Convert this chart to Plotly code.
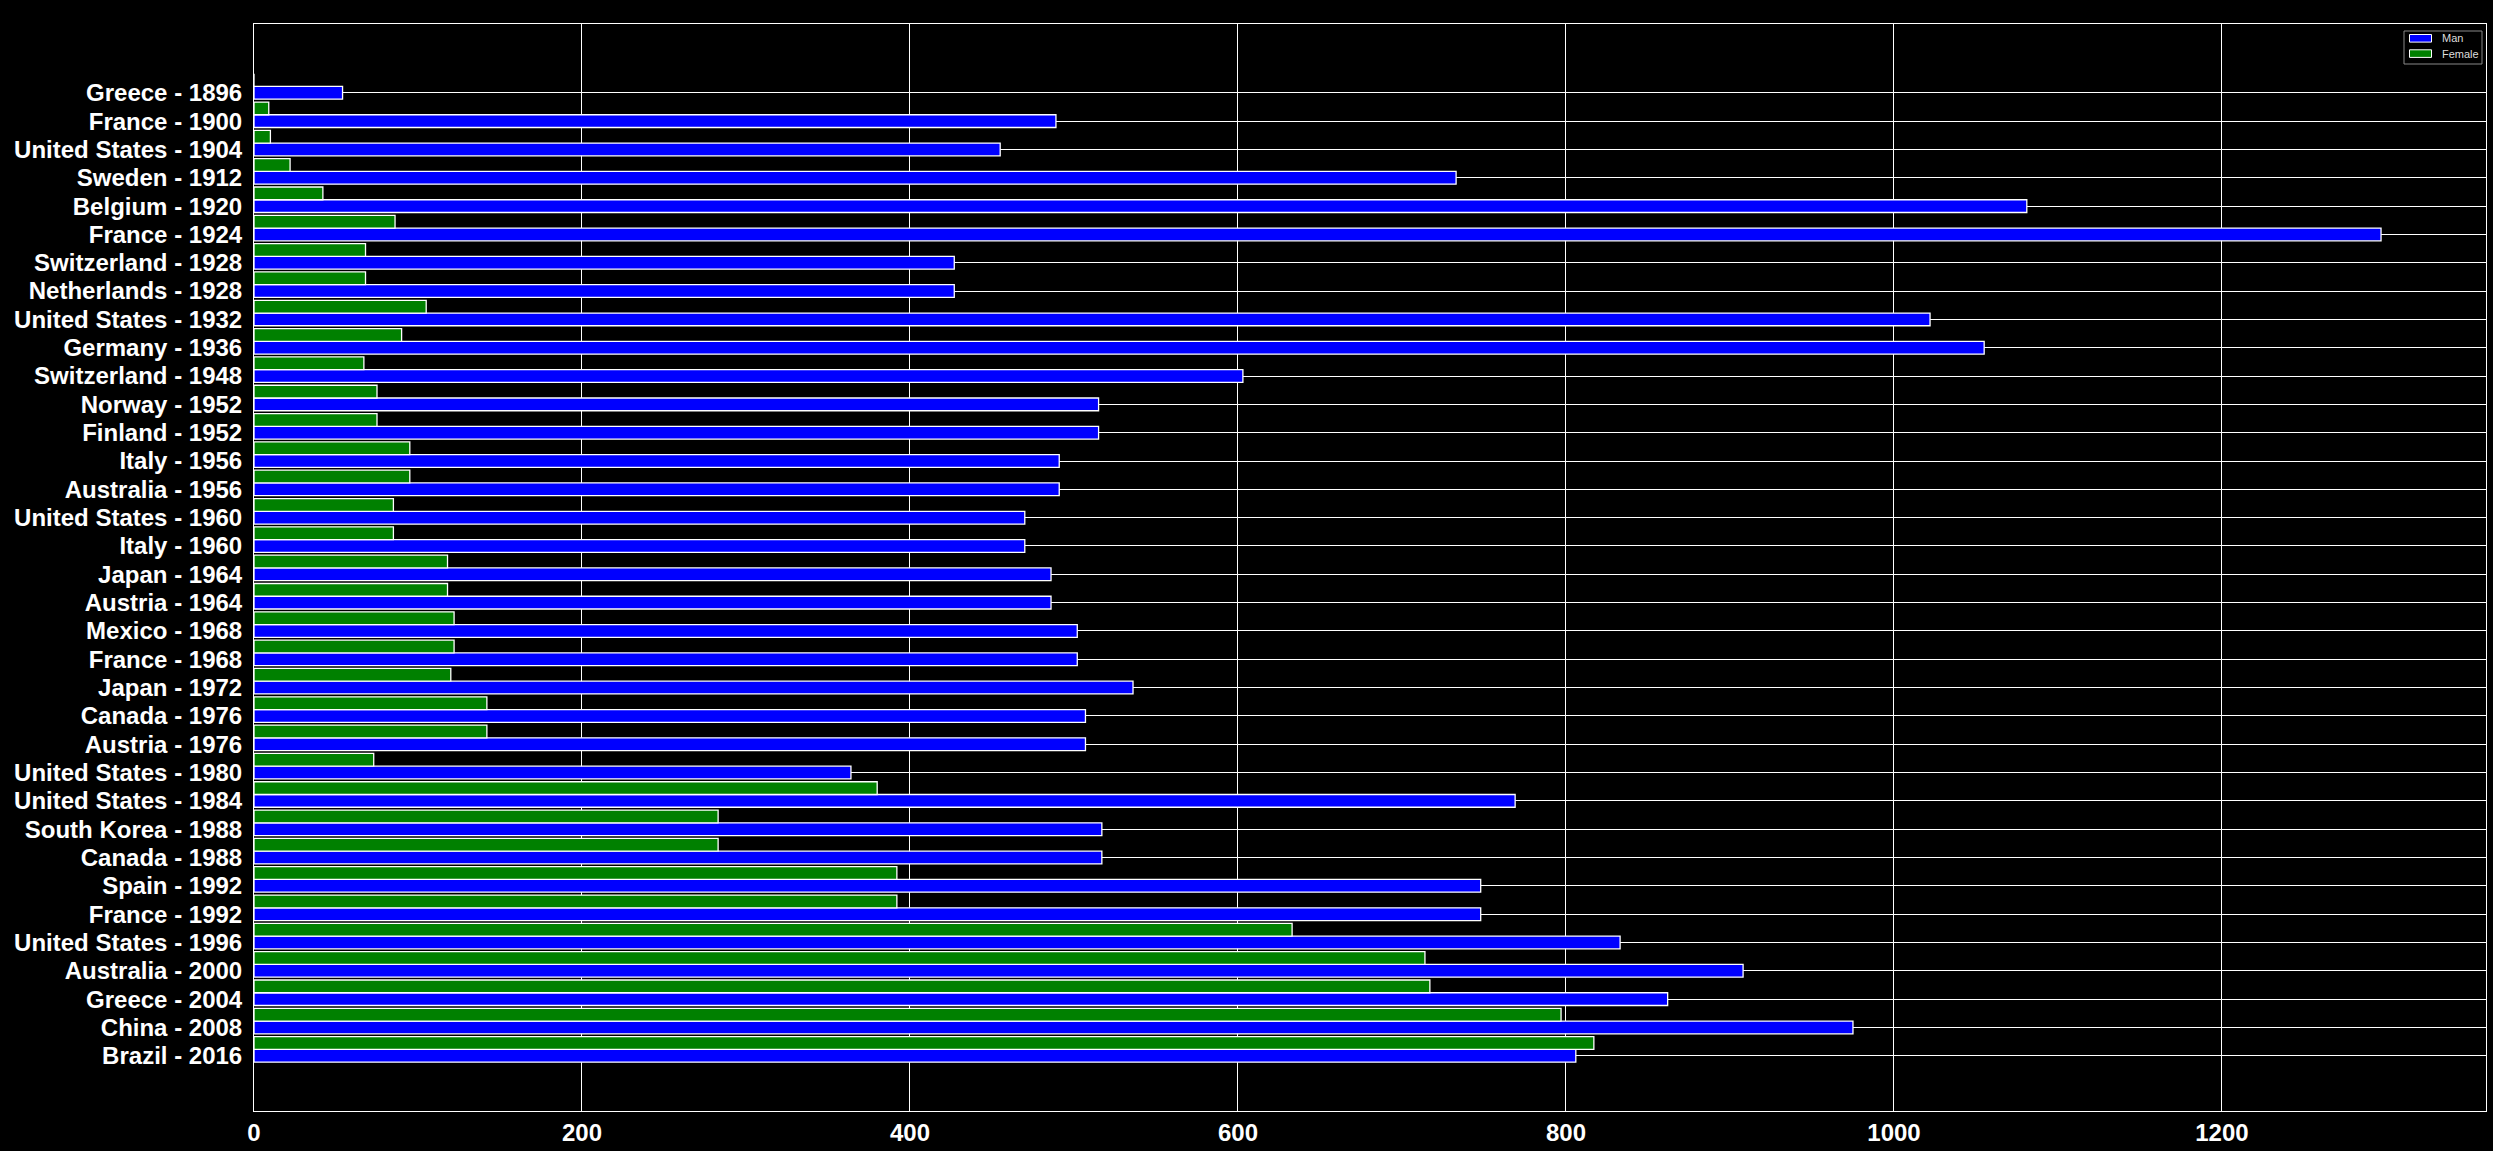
import plotly.graph_objects as go

categories = [
    "Greece - 1896", "France - 1900", "United States - 1904", "Sweden - 1912",
    "Belgium - 1920", "France - 1924", "Switzerland - 1928", "Netherlands - 1928",
    "United States - 1932", "Germany - 1936", "Switzerland - 1948", "Norway - 1952",
    "Finland - 1952", "Italy - 1956", "Australia - 1956", "United States - 1960",
    "Italy - 1960", "Japan - 1964", "Austria - 1964", "Mexico - 1968",
    "France - 1968", "Japan - 1972", "Canada - 1976", "Austria - 1976",
    "United States - 1980", "United States - 1984", "South Korea - 1988",
    "Canada - 1988", "Spain - 1992", "France - 1992", "United States - 1996",
    "Australia - 2000", "Greece - 2004", "China - 2008", "Brazil - 2016",
]

man = [54, 489, 455, 733, 1081, 1297, 427, 427, 1022, 1055, 603, 515, 515,
       491, 491, 470, 470, 486, 486, 502, 502, 536, 507, 507, 364, 769, 517,
       517, 748, 748, 833, 908, 862, 975, 806]

female = [0, 9, 10, 22, 42, 86, 68, 68, 105, 90, 67, 75, 75, 95, 95, 85, 85,
          118, 118, 122, 122, 120, 142, 142, 73, 380, 283, 283, 392, 392, 633,
          714, 717, 797, 817]

x_ticks = [0, 200, 400, 600, 800, 1000, 1200]

series_names = ["Man", "Female"]
series_colors = ["#0000ff", "#008000"]

W, H = 2493, 1151
ML, MR, MT, MB = 254, 7, 24, 40
PW, PH = W - ML - MR, H - MT - MB

BAR_W = 0.45

fig = go.Figure()
for name, vals, col, off in [
    (series_names[0], man, series_colors[0], -BAR_W / 2),
    (series_names[1], female, series_colors[1], -BAR_W / 2 - BAR_W),
]:
    fig.add_trace(go.Bar(
        name=name, y=categories, x=vals, orientation="h",
        width=BAR_W, offset=off, showlegend=False,
        marker=dict(color=col, line=dict(color="white", width=1.3)),
    ))


def px(xp):
    return (xp - ML) / PW


def py(yp):
    return 1 - (yp - MT) / PH


# legend (drawn as a box with patches and labels, like matplotlib)
shapes = [dict(
    type="rect", xref="paper", yref="paper",
    x0=px(2404), x1=px(2482), y0=py(64), y1=py(31),
    line=dict(color="#888888", width=1), fillcolor="black", layer="above",
)]
annotations = []
for k, (name, col) in enumerate(zip(series_names, series_colors)):
    yc = 38.3 + k * 15.3
    shapes.append(dict(
        type="rect", xref="paper", yref="paper",
        x0=px(2409.5), x1=px(2431.5), y0=py(yc + 3.8), y1=py(yc - 3.8),
        line=dict(color="white", width=1), fillcolor=col, layer="above",
    ))
    annotations.append(dict(
        xref="paper", yref="paper", x=px(2440), y=py(yc),
        xanchor="left", yanchor="middle", text=name, showarrow=False,
        font=dict(family="Liberation Sans, Arial, sans-serif", size=11,
                  color="#dddddd"),
    ))

fig.update_layout(
    width=W, height=H,
    paper_bgcolor="black", plot_bgcolor="black",
    margin=dict(l=ML, r=MR, t=MT, b=MB, autoexpand=False),
    barmode="overlay",
    showlegend=False,
    shapes=shapes, annotations=annotations,
    font=dict(family="Liberation Sans, Arial, sans-serif", color="white"),
)

fig.update_xaxes(
    range=[0, 1361], tickmode="array", tickvals=x_ticks,
    showgrid=True, gridcolor="white", gridwidth=1,
    zeroline=False, automargin=False,
    showline=True, linecolor="white", linewidth=1, mirror=True,
    ticks="", ticklabelstandoff=0,
    tickfont=dict(family="Liberation Sans, Arial, sans-serif", size=24,
                  color="white", weight="bold"),
)

fig.update_yaxes(
    type="category", categoryorder="array", categoryarray=categories,
    tickmode="array", tickvals=categories, ticktext=categories,
    range=[35.95, -2.43],
    showgrid=True, gridcolor="white", gridwidth=1,
    zeroline=False, automargin=False,
    showline=True, linecolor="white", linewidth=1, mirror=True,
    ticks="", ticklabelstandoff=6,
    tickfont=dict(family="Liberation Sans, Arial, sans-serif", size=24,
                  color="white", weight="bold"),
)

fig.write_html("out.html")
